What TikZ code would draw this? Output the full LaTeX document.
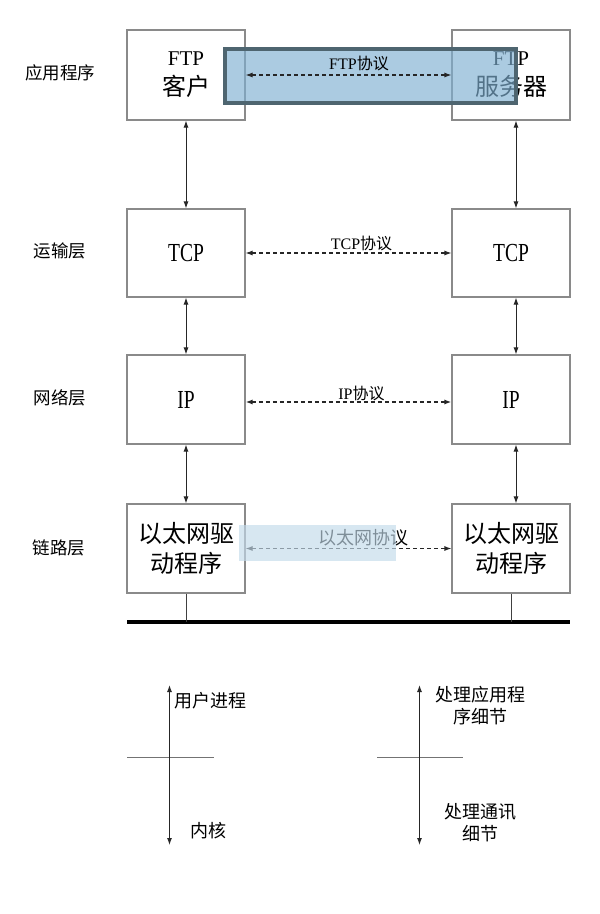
\documentclass[tikz,border=0pt]{standalone}
\usepackage{fontspec}
\setmainfont{Liberation Serif}
\newfontfamily\cjk{Noto Sans CJK SC}
\usetikzlibrary{arrows.meta}
\definecolor{boxgray}{HTML}{8A8A8A}
\definecolor{hlfill}{HTML}{7FB0D2}
\definecolor{hlborder}{HTML}{4E6570}
\definecolor{hlfill2}{HTML}{C3DBEB}
\newcommand{\narrow}[1]{\scalebox{0.75}[1]{\fontsize{26}{30}\selectfont #1}}
\tikzset{
  box/.style={draw=boxgray, line width=1.1pt, fill=white, minimum width=118pt,
    minimum height=89pt, inner sep=0pt, align=center,
    font=\fontsize{24}{30}\selectfont\cjk},
  layer/.style={font=\fontsize{17.5}{20}\selectfont\cjk, inner sep=0pt},
  vconn/.style={draw=black!85, line width=1pt, {Latex[length=7pt,width=5pt]}-{Latex[length=7pt,width=5pt]}},
  proto/.style={draw=black!85, line width=1.1pt, dash pattern=on 4pt off 3pt,
    {Latex[length=7pt,width=5pt]}-{Latex[length=7pt,width=5pt]}},
  plbl/.style={font=\fontsize{16}{18}\selectfont, inner sep=0pt},
  note/.style={font=\fontsize{18}{22}\selectfont\cjk, inner sep=0pt, align=center},
  plain/.style={draw=black!75, line width=0.9pt},
  sep/.style={draw=black!55, line width=1.2pt},
}
\begin{document}
\begin{tikzpicture}[x=1pt,y=-1pt]
\useasboundingbox (0,0) rectangle (600,914);
\fill[white] (0,0) rectangle (600,914);

% layer labels
\node[layer] (L1) at (60,73) {应用程序};
\node[layer] (L2) at (60,251) {运输层};
\node[layer] (L3) at (60,398) {网络层};
\node[layer] (L4) at (59,548) {链路层};

% boxes
\node[box, minimum height=90pt] (c1) at (186,75) {{\rmfamily\fontsize{21}{30}\selectfont FTP}\\客户};
\node[box, minimum height=90pt] (s1) at (511,75) {{\rmfamily\fontsize{21}{30}\selectfont FTP}\\服务器};
\node[box, minimum height=88pt] (c2) at (186,253) {\rmfamily\narrow{TCP}};
\node[box, minimum height=88pt] (s2) at (511,253) {\rmfamily\narrow{TCP}};
\node[box] (c3) at (186,399.5) {\rmfamily\narrow{IP}};
\node[box] (s3) at (511,399.5) {\rmfamily\narrow{IP}};
\node[box] (c4) at (186,548.5) {以太网驱\\动程序};
\node[box] (s4) at (511,548.5) {以太网驱\\动程序};

% vertical connectors
\draw[vconn] (c1.south) -- (c2.north);
\draw[vconn] (c2.south) -- (c3.north);
\draw[vconn] (c3.south) -- (c4.north);
\draw[vconn] ([xshift=5pt]s1.south) -- ([xshift=5pt]s2.north);
\draw[vconn] ([xshift=5pt]s2.south) -- ([xshift=5pt]s3.north);
\draw[vconn] ([xshift=5pt]s3.south) -- ([xshift=5pt]s4.north);

% FTP highlight
\draw[draw=hlborder, line width=4pt, fill=hlfill, fill opacity=0.65] (225,49) rectangle (516,103);

% protocol arrows
\draw[proto] (c1.east) -- (s1.west);
\node[plbl] (p1) at (359,63) {FTP{\cjk 协议}};
\draw[proto] (c2.east) -- (s2.west);
\node[plbl] (p2) at (361.5,243) {TCP{\cjk 协议}};
\draw[proto, line width=1.3pt] ([yshift=-2.5pt]c3.east) -- ([yshift=-2.5pt]s3.west);
\node[plbl] (p3) at (361.5,393) {IP{\cjk 协议}};
\draw[proto] (c4.east) -- (s4.west);
\node[plbl, font=\fontsize{18}{20}\selectfont\cjk] (p4) at (363,538) {以太网协议};

% ethernet highlight
\fill[hlfill2, fill opacity=0.65] (239,525) rectangle (396,561);

% bus
\coordinate (busL) at (127,622);
\coordinate (busR) at (570,622);
\draw[line width=4pt] (busL) -- (busR);
\draw[plain] (c4.south) -- (c4.south |- busL);
\draw[plain] (s4.south) -- (s4.south |- busL);

% bottom left indicator
\coordinate (la) at (169.5,685);
\coordinate (lb) at (169.5,845);
\coordinate (lh1) at (127,757.5);
\coordinate (lh2) at (214,757.5);
\draw[sep] (lh1) -- (lh2);
\draw[vconn] (la) -- (lb);
\node[note] (n1) at (210,701) {用户进程};
\node[note] (n2) at (208,831) {内核};

% bottom right indicator
\coordinate (ra) at (419.5,685);
\coordinate (rb) at (419.5,845);
\coordinate (rh1) at (377,757.5);
\coordinate (rh2) at (463,757.5);
\draw[sep] (rh1) -- (rh2);
\draw[vconn] (ra) -- (rb);
\node[note] (n3) at (480,706) {处理应用程\\序细节};
\node[note] (n4) at (480.5,823) {处理通讯\\细节};
\end{tikzpicture}
\end{document}
